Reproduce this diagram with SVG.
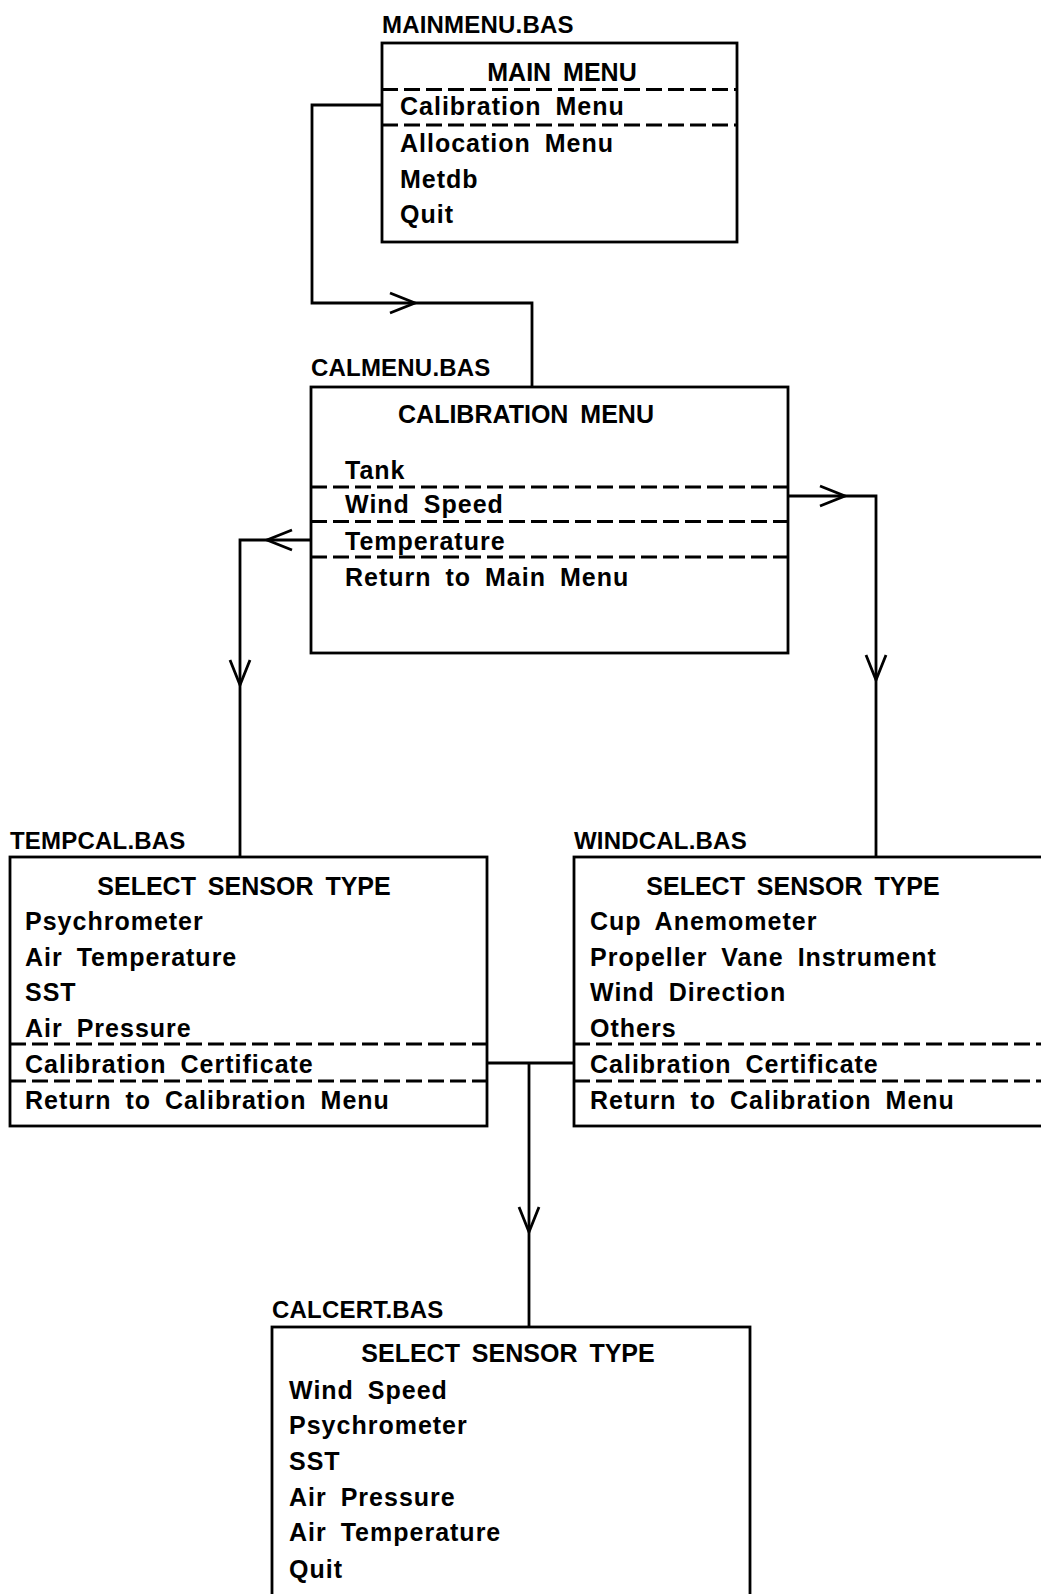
<svg xmlns="http://www.w3.org/2000/svg" width="1041" height="1594" viewBox="0 0 1041 1594">
<style>
  .box{fill:none;stroke:#000;stroke-width:2.8}
  .dash{stroke:#000;stroke-width:2.8;stroke-dasharray:16 6;fill:none}
  .conn{fill:none;stroke:#000;stroke-width:2.8}
  .arrow{fill:none;stroke:#000;stroke-width:2.8;stroke-linejoin:miter}
  text{font-family:"Liberation Sans",Arial,sans-serif;font-weight:bold;fill:#000}
  .item{font-size:25px;letter-spacing:1px;word-spacing:6px}
  .title{font-size:25px;letter-spacing:0px;word-spacing:5px;text-anchor:middle}
  .label{font-size:24px;letter-spacing:0.2px}
</style>
<rect width="1041" height="1594" fill="#fff"/>

<g id="connectors">
  <polyline class="conn" points="382,105 312,105 312,303 532,303 532,387"/>
  <polyline class="arrow" points="390,293 415,303 390,313"/>
  <polyline class="conn" points="788,496 876,496 876,857"/>
  <polyline class="arrow" points="820,486 845,496 820,506"/>
  <polyline class="arrow" points="866,655 876,680 886,655"/>
  <polyline class="conn" points="311,540 240,540 240,857"/>
  <polyline class="arrow" points="292,530 267,540 292,550"/>
  <polyline class="arrow" points="230,660 240,685 250,660"/>
  <polyline class="conn" points="487,1063 574,1063"/>
  <polyline class="conn" points="529,1063 529,1327"/>
  <polyline class="arrow" points="519,1207 529,1232 539,1207"/>
</g>

<g id="mainmenu">
  <text class="label" x="382" y="33">MAINMENU.BAS</text>
  <rect class="box" x="382" y="43" width="355" height="199"/>
  <text class="title" x="562" y="81">MAIN MENU</text>
  <line class="dash" x1="382" y1="89.5" x2="737" y2="89.5"/>
  <text class="item" x="400" y="115">Calibration Menu</text>
  <line class="dash" x1="382" y1="125" x2="737" y2="125"/>
  <text class="item" x="400" y="152">Allocation Menu</text>
  <text class="item" x="400" y="188">Metdb</text>
  <text class="item" x="400" y="223">Quit</text>
</g>

<g id="calmenu">
  <text class="label" x="311" y="376">CALMENU.BAS</text>
  <rect class="box" x="311" y="387" width="477" height="266"/>
  <text class="title" x="526" y="423">CALIBRATION MENU</text>
  <text class="item" x="345" y="479">Tank</text>
  <line class="dash" x1="311" y1="487" x2="788" y2="487"/>
  <text class="item" x="345" y="513">Wind Speed</text>
  <line class="dash" x1="311" y1="521.5" x2="788" y2="521.5"/>
  <text class="item" x="345" y="550">Temperature</text>
  <line class="dash" x1="311" y1="557" x2="788" y2="557"/>
  <text class="item" x="345" y="586">Return to Main Menu</text>
</g>

<g id="tempcal">
  <text class="label" x="10" y="849">TEMPCAL.BAS</text>
  <rect class="box" x="10" y="857" width="477" height="269"/>
  <text class="title" x="244" y="895">SELECT SENSOR TYPE</text>
  <text class="item" x="25" y="930">Psychrometer</text>
  <text class="item" x="25" y="966">Air Temperature</text>
  <text class="item" x="25" y="1001">SST</text>
  <text class="item" x="25" y="1037">Air Pressure</text>
  <line class="dash" x1="10" y1="1044" x2="487" y2="1044"/>
  <text class="item" x="25" y="1073">Calibration Certificate</text>
  <line class="dash" x1="10" y1="1081" x2="487" y2="1081"/>
  <text class="item" x="25" y="1109">Return to Calibration Menu</text>
</g>

<g id="windcal">
  <text class="label" x="574" y="849">WINDCAL.BAS</text>
  <rect class="box" x="574" y="857" width="500" height="269"/>
  <text class="title" x="793" y="895">SELECT SENSOR TYPE</text>
  <text class="item" x="590" y="930">Cup Anemometer</text>
  <text class="item" x="590" y="966">Propeller Vane Instrument</text>
  <text class="item" x="590" y="1001">Wind Direction</text>
  <text class="item" x="590" y="1037">Others</text>
  <line class="dash" x1="574" y1="1044" x2="1041" y2="1044"/>
  <text class="item" x="590" y="1073">Calibration Certificate</text>
  <line class="dash" x1="574" y1="1081" x2="1041" y2="1081"/>
  <text class="item" x="590" y="1109">Return to Calibration Menu</text>
</g>

<g id="calcert">
  <text class="label" x="272" y="1318">CALCERT.BAS</text>
  <rect class="box" x="272" y="1327" width="478" height="300"/>
  <text class="title" x="508" y="1362">SELECT SENSOR TYPE</text>
  <text class="item" x="289" y="1399">Wind Speed</text>
  <text class="item" x="289" y="1434">Psychrometer</text>
  <text class="item" x="289" y="1470">SST</text>
  <text class="item" x="289" y="1506">Air Pressure</text>
  <text class="item" x="289" y="1541">Air Temperature</text>
  <text class="item" x="289" y="1578">Quit</text>
</g>
</svg>
